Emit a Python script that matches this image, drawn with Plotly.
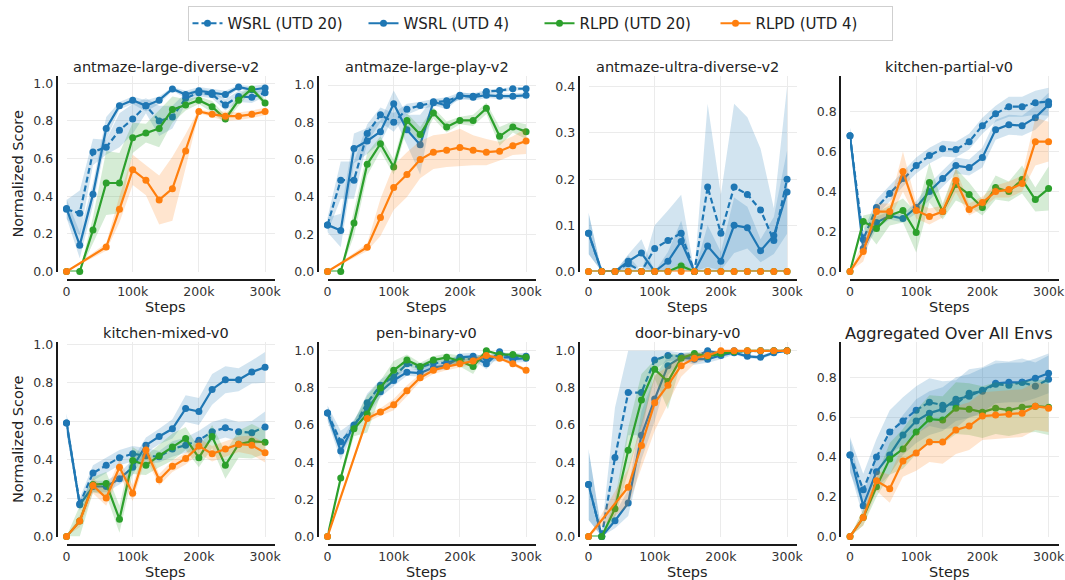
import plotly.graph_objects as go

# ---------------- data ----------------
STEPS = [0, 20000, 40000, 60000, 80000, 100000, 120000, 140000, 160000,
         180000, 200000, 220000, 240000, 260000, 280000, 300000]
X_TICKS = [0, 100000, 200000, 300000]
X_TICK_LABELS = ["0", "100k", "200k", "300k"]
SERIES = ["WSRL (UTD 20)", "WSRL (UTD 4)", "RLPD (UTD 20)", "RLPD (UTD 4)"]
ENV_TITLES = ["antmaze-large-diverse-v2", "antmaze-large-play-v2", "antmaze-ultra-diverse-v2",
              "kitchen-partial-v0", "kitchen-mixed-v0", "pen-binary-v0", "door-binary-v0",
              "Aggregated Over All Envs"]
Y_TOPS = [1.04, 1.05, 0.424, 0.98, 1.013, 1.049, 1.049, 0.979]
Y_TICKS_A = [0.0, 0.2, 0.4, 0.6, 0.8, 1.0]
Y_TICKS_B = [0.0, 0.1, 0.2, 0.3, 0.4]
Y_TICKS_C = [0.0, 0.2, 0.4, 0.6, 0.8]

# antmaze-large-diverse-v2
ALD_W20 = [0.33, 0.31, 0.635, 0.66, 0.75, 0.81, 0.88, 0.80, 0.82, 0.92, 0.95, 0.94, 0.885, 0.93, 0.925, 0.95]
ALD_W20_ERR = [0.05, 0.12, 0.07, 0.04, 0.09, 0.08, 0.04, 0.08, 0.06, 0.03, 0.02, 0.02, 0.03, 0.03, 0.03, 0.02]
ALD_W4 = [0.335, 0.14, 0.41, 0.76, 0.88, 0.91, 0.88, 0.91, 0.97, 0.94, 0.96, 0.95, 0.94, 0.98, 0.965, 0.975]
ALD_W4_ERR = [0.05, 0.07, 0.06, 0.06, 0.02, 0.02, 0.03, 0.02, 0.01, 0.02, 0.02, 0.02, 0.02, 0.01, 0.02, 0.02]
ALD_R20 = [0, 0, 0.22, 0.47, 0.47, 0.71, 0.735, 0.76, 0.86, 0.885, 0.91, 0.875, 0.81, 0.91, 0.97, 0.895]
ALD_R20_ERR = [0, 0, 0.07, 0.17, 0.16, 0.08, 0.05, 0.10, 0.07, 0.03, 0.02, 0.03, 0.02, 0.03, 0.01, 0.02]
ALD_R4 = [0, None, None, 0.13, 0.33, 0.54, 0.485, 0.38, 0.44, 0.64, 0.85, 0.835, 0.825, 0.825, 0.835, 0.85]
ALD_R4_ERR = [0, None, None, 0.02, 0.07, 0.08, 0.08, 0.13, 0.17, 0.09, 0.01, 0.015, 0.025, 0.02, 0.02, 0.02]

# antmaze-large-play-v2
ALP_W20 = [0.25, 0.49, 0.49, 0.74, 0.84, 0.80, 0.87, 0.89, 0.905, 0.915, 0.94, 0.94, 0.965, 0.97, 0.98, 0.98]
ALP_W20_ERR = [0.04, 0.10, 0.10, 0.05, 0.04, 0.05, 0.03, 0.02, 0.02, 0.02, 0.02, 0.015, 0.01, 0.01, 0.01, 0.01]
ALP_W4 = [0.25, 0.22, 0.66, 0.70, 0.75, 0.90, 0.76, 0.68, 0.91, 0.89, 0.945, 0.935, 0.945, 0.94, 0.94, 0.945]
ALP_W4_ERR = [0.04, 0.09, 0.08, 0.07, 0.06, 0.07, 0.08, 0.16, 0.02, 0.02, 0.015, 0.02, 0.015, 0.015, 0.015, 0.015]
ALP_R20 = [0, 0, 0.26, 0.575, 0.685, 0.56, 0.81, 0.735, 0.85, 0.775, 0.81, 0.81, 0.875, 0.725, 0.775, 0.75]
ALP_R20_ERR = [0, 0, 0.07, 0.06, 0.04, 0.04, 0.04, 0.04, 0.03, 0.03, 0.02, 0.03, 0.03, 0.05, 0.03, 0.04]
ALP_R4 = [0, None, None, 0.13, 0.29, 0.45, 0.52, 0.60, 0.64, 0.65, 0.665, 0.65, 0.64, 0.645, 0.675, 0.70]
ALP_R4_ERR = [0, None, None, 0.02, 0.10, 0.12, 0.12, 0.10, 0.09, 0.09, 0.10, 0.08, 0.07, 0.05, 0.05, 0.07]

# antmaze-ultra-diverse-v2
AUD_W20 = [0.083, 0, 0, 0.017, 0, 0.05, 0.067, 0.083, 0, 0.183, 0.083, 0.183, 0.167, 0.133, 0.067, 0.2]
AUD_W20_ERR = [0.045, 0, 0, 0.018, 0, 0.05, 0.065, 0.083, 0, 0.18, 0.083, 0.18, 0.167, 0.133, 0.07, 0.2]
AUD_W4 = [0.083, 0, 0, 0.022, 0.04, 0, 0.022, 0.065, 0, 0.055, 0.022, 0.1, 0.095, 0.045, 0.078, 0.172]
AUD_W4_ERR = [0.045, 0, 0, 0.015, 0.03, 0, 0.02, 0.045, 0, 0.045, 0.02, 0.06, 0.045, 0.025, 0.04, 0.09]
AUD_R20 = [0, 0, 0, 0, 0, 0, 0, 0.012, 0, 0, 0, 0, 0, 0, 0, 0]
AUD_R20_ERR = [0, 0, 0, 0, 0, 0, 0, 0.01, 0, 0, 0, 0, 0, 0, 0, 0]
AUD_R4 = [0, 0, 0, 0, 0, 0, 0, 0, 0, 0, 0, 0, 0, 0, 0, 0]
AUD_R4_ERR = [0, 0, 0, 0, 0, 0, 0, 0, 0, 0, 0, 0, 0, 0, 0, 0]

# kitchen-partial-v0
KP_W20 = [0.68, 0.16, 0.32, 0.39, 0.465, 0.53, 0.58, 0.615, 0.61, 0.65, 0.73, 0.79, 0.825, 0.825, 0.845, 0.85]
KP_W20_ERR = [0.04, 0.04, 0.04, 0.04, 0.04, 0.04, 0.04, 0.04, 0.04, 0.04, 0.04, 0.04, 0.05, 0.05, 0.06, 0.07]
KP_W4 = [0.68, 0.115, 0.245, 0.28, 0.265, 0.32, 0.40, 0.465, 0.53, 0.52, 0.57, 0.71, 0.735, 0.73, 0.77, 0.835]
KP_W4_ERR = [0.04, 0.03, 0.03, 0.02, 0.02, 0.03, 0.04, 0.04, 0.04, 0.04, 0.05, 0.05, 0.05, 0.05, 0.06, 0.06]
KP_R20 = [0, 0.25, 0.215, 0.28, 0.305, 0.195, 0.445, 0.30, 0.435, 0.385, 0.32, 0.42, 0.40, 0.46, 0.36, 0.415]
KP_R20_ERR = [0, 0.03, 0.08, 0.05, 0.06, 0.10, 0.10, 0.04, 0.08, 0.06, 0.04, 0.06, 0.05, 0.07, 0.06, 0.11]
KP_R4 = [0, 0.10, 0.30, 0.30, 0.50, 0.305, 0.275, 0.30, 0.455, 0.31, 0.345, 0.40, 0.41, 0.44, 0.65, 0.65]
KP_R4_ERR = [0, 0.05, 0.04, 0.04, 0.10, 0.04, 0.04, 0.03, 0.06, 0.03, 0.03, 0.03, 0.04, 0.04, 0.12, 0.10]

# kitchen-mixed-v0
KM_W20 = [0.59, 0.17, 0.33, 0.37, 0.41, 0.43, 0.42, 0.415, 0.455, 0.475, 0.50, 0.545, 0.565, 0.545, 0.54, 0.57]
KM_W20_ERR = [0.05, 0.03, 0.04, 0.04, 0.04, 0.04, 0.04, 0.03, 0.04, 0.04, 0.05, 0.05, 0.05, 0.05, 0.06, 0.08]
KM_W4 = [0.59, 0.165, 0.26, 0.26, 0.30, 0.36, 0.475, 0.52, 0.56, 0.665, 0.65, 0.765, 0.815, 0.815, 0.855, 0.88]
KM_W4_ERR = [0.05, 0.03, 0.03, 0.03, 0.03, 0.04, 0.04, 0.04, 0.05, 0.07, 0.07, 0.08, 0.07, 0.06, 0.06, 0.08]
KM_R20 = [0, 0.08, 0.27, 0.275, 0.09, 0.395, 0.37, 0.42, 0.465, 0.51, 0.41, 0.52, 0.37, 0.48, 0.495, 0.49]
KM_R20_ERR = [0, 0.08, 0.04, 0.06, 0.07, 0.07, 0.05, 0.06, 0.07, 0.06, 0.05, 0.06, 0.07, 0.07, 0.09, 0.06]
KM_R4 = [0, 0.08, 0.265, 0.20, 0.36, 0.225, 0.45, 0.295, 0.365, 0.405, 0.47, 0.43, 0.455, 0.48, 0.475, 0.435]
KM_R4_ERR = [0, 0.03, 0.04, 0.04, 0.04, 0.04, 0.04, 0.03, 0.03, 0.03, 0.04, 0.04, 0.04, 0.04, 0.05, 0.05]

# pen-binary-v0
PB_W20 = [0.665, 0.51, 0.59, 0.72, 0.815, 0.86, 0.93, 0.91, 0.935, 0.935, 0.955, 0.955, 0.96, 0.965, 0.965, 0.97]
PB_W20_ERR = [0.04, 0.06, 0.03, 0.05, 0.03, 0.03, 0.02, 0.02, 0.02, 0.02, 0.02, 0.02, 0.02, 0.02, 0.02, 0.02]
PB_W4 = [0.665, 0.46, 0.60, 0.69, 0.78, 0.84, 0.885, 0.88, 0.91, 0.92, 0.965, 0.97, 0.93, 0.995, 0.955, 0.96]
PB_W4_ERR = [0.04, 0.05, 0.03, 0.04, 0.03, 0.03, 0.02, 0.02, 0.02, 0.02, 0.02, 0.02, 0.03, 0.02, 0.02, 0.02]
PB_R20 = [0, 0.315, 0.58, 0.66, 0.80, 0.895, 0.95, 0.915, 0.95, 0.965, 0.945, 0.915, 1.0, 0.98, 0.98, 0.965]
PB_R20_ERR = [0, 0.02, 0.04, 0.10, 0.04, 0.05, 0.03, 0.02, 0.02, 0.02, 0.03, 0.04, 0.01, 0.01, 0.01, 0.01]
PB_R4 = [0, None, None, 0.635, 0.67, 0.71, 0.785, 0.855, 0.895, 0.915, 0.93, 0.945, 0.975, 0.96, 0.93, 0.895]
PB_R4_ERR = [0, None, None, 0.02, 0.02, 0.03, 0.03, 0.02, 0.02, 0.02, 0.02, 0.02, 0.01, 0.01, 0.01, 0.01]

# door-binary-v0
DB_W20 = [0.28, 0, 0.425, 0.775, 0.775, 0.95, 0.975, 0.97, 0.965, 1.0, 0.985, 1.0, 0.995, 1.0, 1.0, 1.0]
DB_W20_ERR = [0.19, 0.03, 0.27, 0.23, 0.23, 0.05, 0.03, 0.02, 0.03, 0.01, 0.01, 0.01, 0.01, 0, 0, 0]
DB_W4 = [0.28, 0, 0.085, 0.18, 0.545, 0.74, 0.92, 0.965, 0.955, 0.955, 0.975, 0.99, 0.97, 0.965, 0.99, 1.0]
DB_W4_ERR = [0.19, 0.02, 0.04, 0.07, 0.13, 0.12, 0.05, 0.02, 0.03, 0.02, 0.02, 0.01, 0.01, 0.01, 0.01, 0]
DB_R20 = [0, 0, 0.15, 0.465, 0.735, 0.90, 0.835, 0.96, 0.985, 0.97, 0.985, 0.995, 1.0, 1.0, 1.0, 1.0]
DB_R20_ERR = [0, 0, 0.05, 0.12, 0.14, 0.05, 0.15, 0.02, 0.01, 0.01, 0.01, 0.005, 0, 0, 0, 0]
DB_R4 = [0, None, None, 0.265, 0.49, 0.72, 0.815, 0.92, 0.96, 0.975, 1.0, 1.0, 1.0, 1.0, 1.0, 1.0]
DB_R4_ERR = [0, None, None, 0.10, 0.12, 0.15, 0.10, 0.06, 0.03, 0.02, 0, 0, 0, 0, 0, 0]

# Aggregated Over All Envs
AGG_W20 = [0.41, 0.235, 0.40, 0.525, 0.58, 0.635, 0.675, 0.66, 0.665, 0.72, 0.73, 0.765, 0.76, 0.775, 0.755, 0.79]
AGG_W20_ERR = [0.09, 0.08, 0.09, 0.11, 0.12, 0.12, 0.12, 0.12, 0.12, 0.12, 0.12, 0.12, 0.12, 0.12, 0.12, 0.12]
AGG_W4 = [0.41, 0.155, 0.325, 0.41, 0.51, 0.58, 0.62, 0.64, 0.69, 0.705, 0.735, 0.77, 0.775, 0.775, 0.795, 0.82]
AGG_W4_ERR = [0.08, 0.06, 0.08, 0.10, 0.10, 0.11, 0.11, 0.11, 0.11, 0.11, 0.11, 0.10, 0.10, 0.10, 0.10, 0.10]
AGG_R20 = [0, 0.095, 0.25, 0.39, 0.44, 0.525, 0.59, 0.585, 0.645, 0.64, 0.625, 0.645, 0.635, 0.65, 0.655, 0.65]
AGG_R20_ERR = [0, 0.04, 0.05, 0.08, 0.10, 0.11, 0.12, 0.12, 0.13, 0.13, 0.13, 0.13, 0.13, 0.13, 0.13, 0.14]
AGG_R4 = [0, 0.095, 0.28, 0.24, 0.38, 0.42, 0.475, 0.475, 0.535, 0.555, 0.605, 0.61, 0.615, 0.62, 0.655, 0.645]
AGG_R4_ERR = [0, 0.04, 0.05, 0.07, 0.08, 0.09, 0.10, 0.11, 0.12, 0.12, 0.12, 0.12, 0.12, 0.12, 0.12, 0.12]

PANELS = [
    [(ALD_W20, ALD_W20_ERR), (ALD_W4, ALD_W4_ERR), (ALD_R20, ALD_R20_ERR), (ALD_R4, ALD_R4_ERR)],
    [(ALP_W20, ALP_W20_ERR), (ALP_W4, ALP_W4_ERR), (ALP_R20, ALP_R20_ERR), (ALP_R4, ALP_R4_ERR)],
    [(AUD_W20, AUD_W20_ERR), (AUD_W4, AUD_W4_ERR), (AUD_R20, AUD_R20_ERR), (AUD_R4, AUD_R4_ERR)],
    [(KP_W20, KP_W20_ERR), (KP_W4, KP_W4_ERR), (KP_R20, KP_R20_ERR), (KP_R4, KP_R4_ERR)],
    [(KM_W20, KM_W20_ERR), (KM_W4, KM_W4_ERR), (KM_R20, KM_R20_ERR), (KM_R4, KM_R4_ERR)],
    [(PB_W20, PB_W20_ERR), (PB_W4, PB_W4_ERR), (PB_R20, PB_R20_ERR), (PB_R4, PB_R4_ERR)],
    [(DB_W20, DB_W20_ERR), (DB_W4, DB_W4_ERR), (DB_R20, DB_R20_ERR), (DB_R4, DB_R4_ERR)],
    [(AGG_W20, AGG_W20_ERR), (AGG_W4, AGG_W4_ERR), (AGG_R20, AGG_R20_ERR), (AGG_R4, AGG_R4_ERR)],
]
Y_TICKS = [Y_TICKS_A, Y_TICKS_A, Y_TICKS_B, Y_TICKS_C, Y_TICKS_A, Y_TICKS_A, Y_TICKS_A, Y_TICKS_C]

# ---------------- style ----------------
LINE_COLORS = ["#1f77b4", "#1f77b4", "#2ca02c", "#ff7f0e"]
BAND_COLORS = ["rgba(31,119,180,0.2)", "rgba(31,119,180,0.2)", "rgba(44,160,44,0.2)", "rgba(255,127,14,0.2)"]
DASHES = ["6px,3px", "solid", "solid", "solid"]
FONT = "DejaVu Sans"
TXT = "#333333"
TITLE_TXT = "#222222"
W, H = 1065, 580
COL_LEFT = [66.5, 327.5, 588.5, 850.0]
AX_W = 208.5
ROW_TOP = [75.7, 341.7]
ROW_BOT = [271.5, 536.5]
SPINE_OFF_X = 10.0
SPINE_OFF_Y = 8.5
X_MAX = 315000

fig = go.Figure()


def band_poly(x, m, e):
    xs, lo, hi = [], [], []
    for xi, mi, ei in zip(x, m, e):
        if mi is None:
            continue
        xs.append(xi)
        lo.append(max(0.0, mi - ei))
        hi.append(min(1.0, mi + ei))
    return xs + xs[::-1], hi + lo[::-1]


for p, panel in enumerate(PANELS):
    xr = "x" if p == 0 else f"x{p + 1}"
    yr = "y" if p == 0 else f"y{p + 1}"
    for s, (mean, err) in enumerate(panel):
        bx, by = band_poly(STEPS, mean, err)
        fig.add_trace(go.Scatter(x=bx, y=by, xaxis=xr, yaxis=yr, fill="toself",
                                 fillcolor=BAND_COLORS[s], line=dict(width=0),
                                 mode="lines", hoverinfo="skip", showlegend=False))
        fig.add_trace(go.Scatter(x=STEPS, y=mean, xaxis=xr, yaxis=yr, mode="lines+markers",
                                 name=SERIES[s], legendgroup=SERIES[s], showlegend=(p == 0),
                                 connectgaps=True, cliponaxis=False,
                                 line=dict(color=LINE_COLORS[s], width=2.2, dash=DASHES[s]),
                                 marker=dict(color=LINE_COLORS[s], size=7)))

layout = dict(
    template="none",
    width=W, height=H, margin=dict(l=0, r=0, t=0, b=0, autoexpand=False),
    paper_bgcolor="white", plot_bgcolor="white",
    font=dict(family=FONT, color=TXT, size=12.5),
    showlegend=True,
    legend=dict(orientation="h", x=540 / W, xanchor="center", y=1 - 6 / H, yanchor="top",
                font=dict(size=15, family=FONT, color=TITLE_TXT), bordercolor="#cfcfcf", borderwidth=1,
                bgcolor="white", entrywidth=131, entrywidthmode="pixels"),
)
annotations = []
for p in range(8):
    row, col = divmod(p, 4)
    sx = "" if p == 0 else str(p + 1)
    x0 = COL_LEFT[col]
    x1 = x0 + AX_W
    layout[f"xaxis{sx}"] = dict(
        domain=[x0 / W, x1 / W], range=[0, X_MAX], anchor="free", automargin=False,
        position=1 - (ROW_BOT[row] + SPINE_OFF_Y) / H,
        tickvals=X_TICKS, ticktext=X_TICK_LABELS, showgrid=True, gridcolor="#ebebeb", gridwidth=1,
        zeroline=False, showline=True, linecolor="#1a1a1a", linewidth=1.8, ticks="",
        tickfont=dict(size=12.5, family=FONT, color=TXT))
    layout[f"yaxis{sx}"] = dict(
        domain=[1 - ROW_BOT[row] / H, 1 - ROW_TOP[row] / H], range=[0, Y_TOPS[p]], anchor="free",
        automargin=False, position=(x0 - SPINE_OFF_X) / W,
        tickvals=Y_TICKS[p], tickformat=".1f", showgrid=True, gridcolor="#ebebeb", gridwidth=1,
        zeroline=False, showline=True, linecolor="#1a1a1a", linewidth=1.8, ticks="",
        tickfont=dict(size=12.5, family=FONT, color=TXT))
    cx = (x0 + x1) / 2 - 5
    annotations.append(dict(text=ENV_TITLES[p], x=cx / W, y=1 - (ROW_TOP[row] - 8.5) / H,
                            xref="paper", yref="paper", showarrow=False, xanchor="center",
                            yanchor="middle",
                            font=dict(size=16.2 if p == 7 else 14.5, family=FONT, color=TITLE_TXT)))
    annotations.append(dict(text="Steps", x=cx / W, y=1 - (ROW_BOT[row] + 35.5) / H,
                            xref="paper", yref="paper", showarrow=False, xanchor="center",
                            yanchor="middle", font=dict(size=14.5, family=FONT, color=TITLE_TXT)))
    if col == 0:
        annotations.append(dict(text="Normalized Score", x=18 / W,
                                y=1 - ((ROW_TOP[row] + ROW_BOT[row]) / 2) / H,
                                xref="paper", yref="paper", showarrow=False, textangle=-90,
                                xanchor="center", yanchor="middle",
                                font=dict(size=14.5, family=FONT, color=TITLE_TXT)))
layout["annotations"] = annotations
fig.update_layout(**layout)
fig.write_html("out.html", config={"displayModeBar": False},
               post_script="document.body.style.margin='0';document.body.style.overflow='hidden';")
